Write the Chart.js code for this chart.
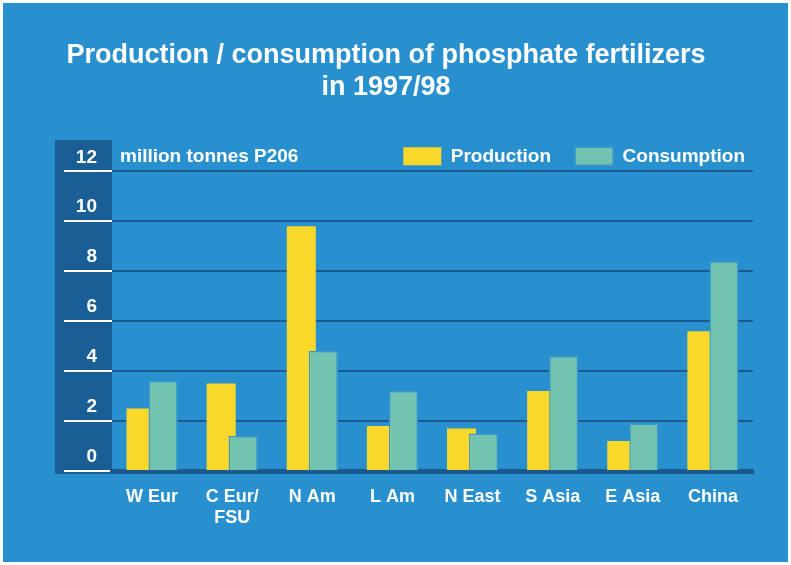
<!DOCTYPE html>
<html>
<head>
<meta charset="utf-8">
<script src="https://cdn.jsdelivr.net/npm/chart.js@4"></script>
<style>
  html, body { margin: 0; padding: 0; background: #ffffff; }
  #wrap { position: absolute; left: 3px; top: 3px; width: 785px; height: 559px; background: #2890cf; }
</style>
</head>
<body>
<div id="wrap"><canvas id="fertChart" width="785" height="559"></canvas></div>
<script>
const categories = ['W Eur', ['C Eur/', 'FSU'], 'N Am', 'L Am', 'N East', 'S Asia', 'E Asia', 'China'];
const production = [2.5, 3.5, 9.8, 1.8, 1.7, 3.2, 1.2, 5.6];
const consumption = [3.6, 1.4, 4.8, 3.2, 1.5, 4.6, 1.9, 8.4];
const yMin = 0, yMax = 12, yStep = 2;
const unitLabel = 'million tonnes P206';
const titleLines = ['Production / consumption of phosphate fertilizers', 'in 1997/98'];

Chart.defaults.font.family = "'Liberation Sans', Arial, sans-serif";

// dark strip behind the y tick labels + unit label
const stripPlugin = {
    id: 'strip',
    beforeDraw(chart) {
        const ctx = chart.ctx;
        const area = chart.chartArea;
        ctx.save();
        ctx.fillStyle = '#1a5e96';
        ctx.fillRect(52, 137, area.left - 52, area.bottom + 3 - 137);
        ctx.restore();
    },
    afterDraw(chart) {
        const ctx = chart.ctx;
        ctx.save();
        ctx.fillStyle = '#ffffff';
        ctx.font = "bold 19px 'Liberation Sans', Arial, sans-serif";
        ctx.textAlign = 'left';
        ctx.textBaseline = 'middle';
        ctx.fillText(unitLabel, chart.chartArea.left + 8, 154);
        ctx.restore();
    }
};

// consumption bars sit in front of production bars
const frontPlugin = {
    id: 'front',
    afterDatasetsDraw(chart) {
        const meta = chart.getDatasetMeta(1);
        meta.data.forEach(bar => bar.draw(chart.ctx));
    }
};

const ctx = document.getElementById('fertChart').getContext('2d');
const fertChart = new Chart(ctx, {
    type: 'bar',
    data: {
        labels: categories,
        datasets: [{
            label: 'Production',
            data: production,
            backgroundColor: '#f8d92b',
            borderWidth: 0,
            categoryPercentage: 0.55,
            barPercentage: 1.32
        }, {
            label: 'Consumption',
            data: consumption,
            backgroundColor: '#73c3b1',
            borderColor: '#3a99cc',
            borderWidth: 1.5,
            categoryPercentage: 0.55,
            barPercentage: 1.32
        }]
    },
    options: {
        responsive: false,
        animation: false,
        layout: { padding: { left: 0, right: 19, top: 0, bottom: 0 } },
        plugins: {
            title: {
                display: true,
                text: titleLines,
                color: '#ffffff',
                font: { size: 27, weight: 'bold', lineHeight: 1.2 },
                padding: { top: 36, bottom: 19 }
            },
            legend: {
                position: 'top',
                align: 'end',
                maxHeight: 48.5,
                labels: {
                    color: '#ffffff',
                    boxWidth: 38,
                    boxHeight: 18,
                    padding: 24,
                    font: { size: 19, weight: 'bold' }
                }
            },
            tooltip: { enabled: false }
        },
        scales: {
            x: {
                z: 1,
                grid: { display: false, drawTicks: false },
                border: { display: true, color: '#1a5a8e', width: 5 },
                ticks: {
                    color: '#ffffff',
                    padding: 15,
                    font: { size: 18, weight: 'bold', lineHeight: 1.2 }
                },
                afterFit: s => { s.height = 91; }
            },
            y: {
                min: yMin,
                max: yMax,
                grid: {
                    color: '#1b5a8c',
                    lineWidth: 2,
                    tickColor: '#ffffff',
                    tickWidth: 2,
                    tickLength: 48
                },
                border: { display: false },
                ticks: {
                    stepSize: yStep,
                    color: '#ffffff',
                    padding: -33,
                    labelOffset: -14,
                    font: { size: 19, weight: 'bold' }
                },
                afterFit: s => { s.width = 109; }
            },
            y2: {
                position: 'right',
                grid: { display: false },
                border: { display: false },
                ticks: { display: false },
                afterFit: s => { s.width = 16; }
            }
        }
    },
    plugins: [stripPlugin, frontPlugin]
});
</script>
</body>
</html>
